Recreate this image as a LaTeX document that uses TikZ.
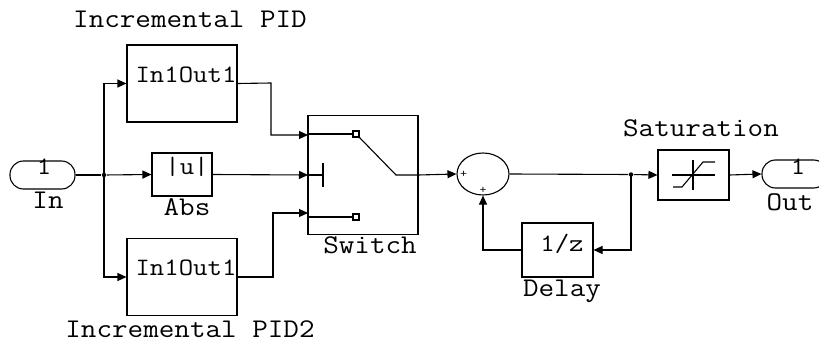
\documentclass[tikz,border=0pt]{standalone}
\usepackage{fontspec}
\newfontfamily\mono[FakeStretch=1.12]{Latin Modern Mono}
\usetikzlibrary{arrows.meta,shapes.geometric}
\begin{document}
\begin{tikzpicture}[x=1pt,y=-1pt,
  every path/.style={line width=1.1pt},
  blk/.style={draw,rectangle,minimum width=#1,inner sep=0pt},
  lbl/.style={anchor=base,inner sep=0pt,font=\mono\fontsize{27}{27}\selectfont},
  slbl/.style={anchor=base,inner sep=0pt,font=\mono\fontsize{25}{25}\selectfont},
  arr/.style={-{Triangle[length=9pt,width=8pt]}},
  port/.style={draw,rectangle,rounded corners=13.5pt,minimum width=65pt,minimum height=28pt,inner sep=0pt},
  jdot/.style={circle,fill,inner sep=0pt,minimum size=4.5pt}]
\useasboundingbox (0,0) rectangle (819,342);
\fill[white] (0,0) rectangle (819,342);
% blocks
\node[port] (in) at (42.5,175) {};
\node[blk=110pt,minimum height=77pt] (pid1) at (182,83.5) {};
\node[blk=110pt,minimum height=77pt] (pid2) at (182,277) {};
\node[blk=60pt,minimum height=43pt] (abs) at (182,174.5) {};
\node[blk=110pt,minimum height=119pt] (sw) at (363,175) {};
\node[draw,ellipse,minimum width=52pt,minimum height=42pt,inner sep=0pt] (sum) at (483,174) {};
\node[blk=71pt,minimum height=54pt] (delay) at (557.5,250) {};
\node[blk=71pt,minimum height=50pt] (sat) at (693.5,175) {};
\node[port] (out) at (794.5,174) {};
% texts
\node[lbl] (t1) at (190,28) {Incremental PID};
\node[lbl] (t2) at (190,337) {Incremental PID2};
\node[slbl] (p1) at (186,83) {In1Out1};
\node[slbl] (p2) at (186,275) {In1Out1};
\node[lbl] (tabs) at (187,215) {Abs};
\node[slbl] (u) at (187,175) {|u|};
\node[lbl] (tsw) at (370,253) {Switch};
\node[slbl] (tz) at (562,251) {1/z};
\node[lbl] (tdl) at (562,296) {Delay};
\node[lbl] (tsat) at (701,136) {Saturation};
\node[lbl] (tin) at (48,208) {In};
\node[lbl] (tout) at (790,210) {Out};
\node[slbl] (n1) at (44,175) {1};
\node[slbl] (n2) at (798,175) {1};
\node[anchor=center,inner sep=0pt,font=\mono\fontsize{12}{12}\selectfont\bfseries] (plus1) at (463.5,174.5) {+};
\node[anchor=center,inner sep=0pt,font=\mono\fontsize{12}{12}\selectfont\bfseries] (plus2) at (483,190) {+};
% switch internals
\draw (308,134) -- (353,134);
\draw (353,131) rectangle (359,137);
\draw (359,137) -- (396,175) -- (sw.east);
\draw (308,175) -- (323,175);
\draw[line width=1.8pt] (323,163) -- (323,187);
\draw (308,217) -- (353,217);
\draw (353,214) rectangle (359,220);
% saturation icon
\draw (672,175) -- (715,175);
\draw (693,160) -- (693,190);
\draw (673,187) -- (682,187) -- (703,162) -- (715,162);
% junctions and coordinates
\node[jdot] (j1) at (104,175) {};
\node[jdot] (j2) at (631,174.5) {};
\coordinate (s1) at (308,135);
\coordinate (s2) at (308,175);
\coordinate (s3) at (308,213);
\coordinate (b1) at (271,83);
\coordinate (b2) at (273,277);
% connectors
\draw (in.east) -- (j1);
\draw[arr] (j1) -- (abs.west);
\draw[arr] (j1.center) |- (pid1.west);
\draw[arr] (j1.center) |- (pid2.west);
\draw[arr] (pid1.east) -- (b1) |- (s1);
\draw[arr] (abs.east) -- (s2);
\draw[arr] (pid2.east) -- (b2) |- (s3);
\draw[arr] (sw.east) -- (sum.west);
\draw (sum.east) -- (j2);
\draw[arr] (j2) -- (sat.west);
\draw[arr] (j2.center) |- (delay.east);
\draw[arr] (delay.west) -| (sum.south);
\draw[arr] (sat.east) -- (out.west);
\end{tikzpicture}
\end{document}
